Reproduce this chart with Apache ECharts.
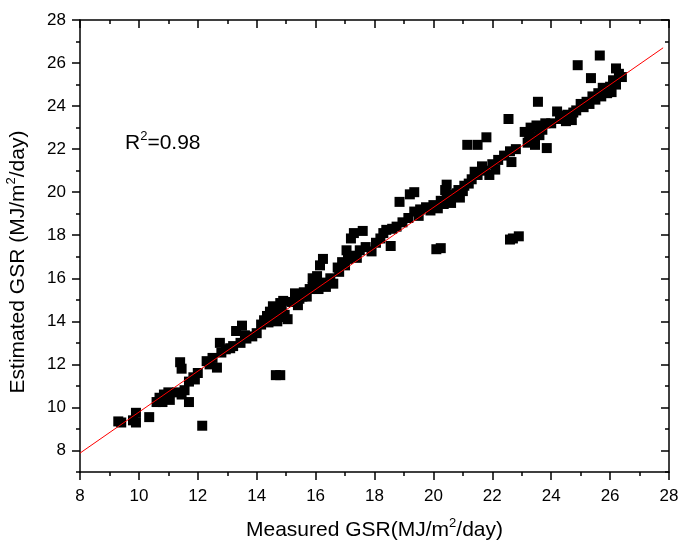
<!DOCTYPE html>
<html>
<head>
<meta charset="utf-8">
<script src="https://cdn.jsdelivr.net/npm/echarts@6/dist/echarts.min.js"></script>
<style>
  html, body { margin: 0; padding: 0; background: #fff; }
  #chart { width: 678px; height: 540px; }
</style>
</head>
<body>
<div id="chart"></div>
<script>
/*
 * measured vs estimated GSR, with fitted line
 */
var measured = [
  9.3, 9.4, 9.8, 9.9, 9.9, 10.35,
  10.6, 10.7, 10.8, 10.85, 10.95, 11.05, 11.0,
  11.3, 11.45, 11.55, 11.4, 11.45, 11.7, 12.15,
  11.7, 11.85, 12.0, 11.9, 12.3, 12.4, 12.5,
  12.65, 12.75, 12.8, 12.95, 13.1, 13.2,
  13.3, 13.5, 13.45, 13.65, 13.85, 14.0, 13.6,
  14.65, 14.8,
  14.15, 14.25, 14.35, 14.45, 14.55, 14.7, 14.8, 14.9, 14.5, 14.75, 14.6, 14.4,
  14.3, 14.55, 14.85, 14.95, 14.7,
  15.05, 15.2, 15.3, 15.45, 15.6, 15.8, 15.4, 15.7, 15.55, 15.9,
  15.9, 16.05, 16.2, 16.35, 16.5, 16.6, 16.15, 16.25, 16.0, 16.1,
  16.75, 16.9, 17.1, 17.3, 17.05, 17.3, 17.6, 17.2, 16.8, 17.0, 17.4,
  17.5, 17.7, 17.9, 18.05, 18.2, 18.4, 18.55, 18.75, 18.95, 18.3, 18.6,
  18.85, 19.2, 19.35,
  19.35, 19.55, 19.75, 20.0, 19.5, 19.15, 19.9,
  20.1, 20.25,
  20.25, 20.45, 20.65, 20.85, 21.05, 20.6, 20.4, 20.45, 20.9, 21.2,
  20.15, 20.35, 20.8, 21.0,
  21.15, 21.5, 21.8,
  21.3, 21.5, 21.75, 22.0, 22.2, 22.4, 22.6, 22.8, 21.9, 22.65, 22.1, 21.4, 21.65,
  22.55, 22.6, 22.7, 22.9,
  23.1, 23.3, 23.5, 23.7, 23.2, 23.45, 23.8, 23.35, 23.6, 23.85, 23.55,
  23.25, 23.65, 24.0,
  24.2, 24.3, 24.55, 24.85, 25.1, 24.5, 25.0, 24.7, 24.4, 24.75,
  25.2, 25.4, 25.6, 25.8, 26.0, 25.5, 25.9, 25.7, 25.3, 25.75, 26.05,
  24.9, 25.35, 25.65, 26.2,
  26.1, 26.3, 26.2, 26.4
];
var estimated = [
  9.35, 9.3, 9.4, 9.75, 9.3, 9.55,
  10.25, 10.45, 10.25, 10.6, 10.5, 10.35, 10.7,
  10.7, 10.6, 10.8, 12.1, 11.8, 10.25, 9.15,
  11.2, 11.4, 11.6, 11.3, 12.15, 12.0, 12.3,
  11.85, 13.0, 12.55, 12.7, 12.75, 12.85,
  13.55, 13.8, 13.0, 13.2, 13.3, 13.45, 13.35,
  11.5, 11.5,
  13.85, 14.05, 14.25, 14.45, 14.7, 14.6, 14.85, 14.95, 14.05, 14.2, 14.35, 13.95,
  14.0, 14.25, 14.55, 14.3, 14.0,
  14.1, 14.9, 15.3, 15.05, 15.35, 15.5, 14.75, 15.15, 15.15, 15.6,
  16.0, 16.1, 15.8, 15.6, 16.0, 15.75, 16.6, 16.9, 15.6, 15.5,
  16.5, 16.75, 16.9, 17.05, 17.3, 18.1, 18.2, 17.85, 16.3, 16.6, 16.95,
  17.3, 17.45, 17.25, 17.65, 17.85, 18.25, 17.5, 18.4, 18.6, 18.1, 18.3,
  19.55, 19.9, 20.0,
  19.1, 19.2, 19.3, 19.4, 18.9, 18.8, 19.15,
  17.35, 17.4,
  19.6, 19.8, 19.9, 20.1, 20.3, 19.5, 20.1, 20.35, 19.75, 20.4,
  19.25, 19.45, 19.95, 20.05,
  22.2, 22.2, 22.55,
  20.6, 20.8, 21.0, 21.3, 21.5, 21.7, 21.9, 22.0, 20.8, 21.4, 21.05, 20.95, 21.2,
  23.4, 17.8, 17.85, 17.95,
  22.8, 23.0, 23.1, 22.9, 22.3, 22.2, 23.2, 22.55, 22.65, 22.05, 24.2,
  22.7, 23.0, 23.2,
  23.75, 23.4, 23.6, 23.8, 23.95, 23.3, 24.1, 23.35, 23.55, 23.7,
  24.2, 24.45, 24.6, 24.7, 24.9, 24.3, 24.6, 24.45, 24.1, 24.85, 24.65,
  25.9, 25.3, 26.35, 25.75,
  25.2, 25.5, 25.0, 25.35
];
// fitted line
var fitSlope = 0.951;
var fitIntercept = 0.27;
var fitRange = [8, 27.8];
var yTicks = [8, 10, 12, 14, 16, 18, 20, 22, 24, 26, 28];

var points = [];
for (var i = 0; i < measured.length; i++) {
  points.push([measured[i], estimated[i]]);
}
var fitLine = [];
for (var j = 0; j < fitRange.length; j++) {
  fitLine.push([fitRange[j], fitSlope * fitRange[j] + fitIntercept]);
}

var font = 'Liberation Sans, Arial, sans-serif';
var black = '#000';
// superscript: small token pinned to the top of a taller line
var richText = {
  n: { fontSize: 21, fontFamily: font, color: black, lineHeight: 26 },
  sup: { fontSize: 13, fontFamily: font, color: black, lineHeight: 10, verticalAlign: 'top' }
};

function xAx(pos, inside, label) {
  return {
    type: 'value', position: pos, min: 8, max: 28, interval: 2,
    axisLine: { show: true, lineStyle: { color: black, width: 1.5 } },
    axisTick: { show: true, inside: inside, length: 8, lineStyle: { color: black, width: 1.5 } },
    minorTick: { show: true, splitNumber: 2, length: 4, lineStyle: { color: black, width: 1.5 } },
    axisLabel: { show: label, color: black, fontSize: 17, fontFamily: font, margin: 16 },
    splitLine: { show: false }
  };
}
function yAx(pos, inside, label, minor) {
  return {
    type: 'value', position: pos, min: 7, max: 28, interval: 1,
    axisLine: { show: !minor, lineStyle: { color: black, width: 1.5 } },
    axisTick: minor
      ? { show: true, inside: inside, length: 4, lineStyle: { color: black, width: 1.5 } }
      : { show: true, inside: inside, length: 8, customValues: yTicks, lineStyle: { color: black, width: 1.5 } },
    axisLabel: { show: label, customValues: yTicks, color: black, fontSize: 17, fontFamily: font, margin: 14 },
    splitLine: { show: false }
  };
}

var xMain = xAx('bottom', false, true);
xMain.name = '{n|Measured GSR(MJ/m}{sup|2}{n|/day)}';
xMain.nameLocation = 'middle';
xMain.nameGap = 45;
xMain.nameTextStyle = { rich: richText };

var yMain = yAx('left', false, true, false);
yMain.name = '{n|Estimated GSR (MJ/m}{sup|2}{n|/day)}';
yMain.nameLocation = 'middle';
yMain.nameGap = 49;
yMain.nameTextStyle = { rich: richText, padding: [0, 32, 0, 0] };

var option = {
  backgroundColor: '#fff',
  animation: false,
  grid: { left: 80, right: 9, top: 20, bottom: 68, containLabel: false, outerBoundsMode: 'none' },
  xAxis: [xMain, xAx('top', true, false)],
  yAxis: [
    yMain,
    yAx('left', false, false, true),
    yAx('right', true, false, false),
    yAx('right', true, false, true)
  ],
  graphic: [{
    type: 'text', left: 125, top: 130,
    style: {
      text: '{n|R}{sup|2}{n|=0.98}',
      rich: richText
    }
  }],
  series: [{
    type: 'scatter',
    symbol: 'rect',
    symbolSize: 10,
    itemStyle: { color: black, opacity: 1 },
    data: points,
    z: 2
  }, {
    type: 'line',
    data: fitLine,
    symbol: 'none',
    lineStyle: { color: '#ff0000', width: 1 },
    z: 3
  }]
};

var chart = echarts.init(document.getElementById('chart'));
chart.setOption(option);
</script>
</body>
</html>
